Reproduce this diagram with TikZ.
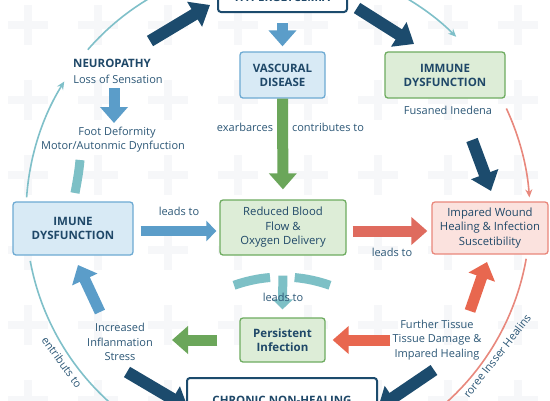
\documentclass[tikz,border=0pt]{standalone}
\usepackage{fontspec}
\setmainfont{Open Sans}
\usetikzlibrary{arrows.meta}
\definecolor{navy}{HTML}{1C4B6D}
\definecolor{txtnavy}{HTML}{1F4868}
\definecolor{lbltxt}{HTML}{2D5877}
\definecolor{bluearrc}{HTML}{5B9DC9}
\definecolor{bluefill}{HTML}{D8EAF5}
\definecolor{blueborder}{HTML}{6DAAD3}
\definecolor{greenfill}{HTML}{DDEDD7}
\definecolor{greenborder}{HTML}{6EAC60}
\definecolor{greenarrc}{HTML}{6BA65A}
\definecolor{redfill}{HTML}{FBE2DE}
\definecolor{redborder}{HTML}{E9877B}
\definecolor{redarrc}{HTML}{DF6B5E}
\definecolor{orangearrc}{HTML}{E8674F}
\definecolor{thinteal}{HTML}{7FC0C9}
\definecolor{tealbar}{HTML}{7DC0C6}
\definecolor{thinred}{HTML}{E8887D}
\definecolor{crossc}{HTML}{F6F7F9}
\tikzset{
  boxbase/.style={draw, rounded corners=3pt, line width=1.3pt, align=center, inner sep=2pt, text=txtnavy},
  titlefont/.style={font=\bfseries\fontsize{11.5}{14}\selectfont},
  bodyfont/.style={font=\fontsize{11.3}{14.5}\selectfont},
  bluebox/.style={boxbase, fill=bluefill, draw=blueborder, titlefont},
  greenbox/.style={boxbase, fill=greenfill, draw=greenborder},
  redbox/.style={boxbase, fill=redfill, draw=redborder, bodyfont},
  navybox/.style={boxbase, fill=white, draw=navy, line width=2pt, titlefont},
  lbl/.style={text=lbltxt, font=\fontsize{11}{14.2}\selectfont, align=center, inner sep=1pt},
  navyarr/.style={draw=navy, line width=12pt, -{Triangle[width=28pt,length=18pt]}},
  medarr/.style={line width=11pt, -{Triangle[width=27pt,length=16pt]}},
  smallarr/.style={line width=10pt, -{Triangle[width=20pt,length=10pt]}},
  thinarc/.style={line width=1.6pt},
  thintip/.style={-{Stealth[length=8pt,width=7pt]}},
  tealbarst/.style={draw=tealbar, line width=9pt}
}
\begin{document}
\begin{tikzpicture}[x=1pt,y=1pt]
\useasboundingbox (0,0) rectangle (550,-400);
\clip (0,0) rectangle (550,-400);
\fill[white] (0,0) rectangle (550,-400);
% faint background crosses
\foreach \i in {0,...,7} {
  \foreach \j in {0,...,5} {
    \fill[crossc] ({28+70*\i-20},{-25-75*\j-4}) rectangle +(40,8);
    \fill[crossc] ({28+70*\i-4},{-25-75*\j-20}) rectangle +(8,40);
  }
}
% big cycle circle (thin arcs)
\coordinate (C) at (278,-215);
\draw[thinarc, draw=thinteal, thintip] (C) ++(176:252pt) arc[start angle=176, end angle=148, radius=252pt];
\draw[thinarc, draw=thinteal] (C) ++(139:252pt) arc[start angle=139, end angle=110, radius=252pt];
\draw[thinarc, draw=thinteal, thintip] (C) ++(65:252pt) arc[start angle=65, end angle=45, radius=252pt];
\draw[thinarc, draw=thinred, thintip] (C) ++(25:252pt) arc[start angle=25, end angle=4, radius=252pt];
\draw[thinarc, draw=thinred] (C) ++(-10:252pt) arc[start angle=-10, end angle=-60, radius=252pt];
\draw[thinarc, draw=thinteal] (C) ++(190.5:252pt) arc[start angle=190.5, end angle=235, radius=252pt];

% boxes
\node[navybox, minimum width=129pt, minimum height=30pt] (hyper) at (282.5,3) {HYPERGLYCEMIA};
\node[bluebox, minimum width=85pt, minimum height=46pt] (vasc) at (282.5,-75) {VASCURAL\\DISEASE};
\node[greenbox, titlefont, minimum width=120pt, minimum height=46pt] (immune) at (445,-75) {IMMUNE\\DYSFUNCTION};
\node[bluebox, minimum width=120pt, minimum height=53pt] (imune) at (73,-228.5) {IMUNE\\DYSFUNCTION};
\node[greenbox, bodyfont, minimum width=126pt, minimum height=55pt] (reduced) at (283,-227.5) {Reduced Blood\\Flow \&\\Oxygen Delivery};
\node[redbox, minimum width=116pt, minimum height=52pt] (impared) at (490,-228) {Impared Wound\\Healing \& Infection\\Suscetibility};
\node[greenbox, titlefont, minimum width=85pt, minimum height=44pt] (persist) at (282.5,-340) {Persistent\\Infection};
\node[navybox, minimum width=190pt, minimum height=44pt] (chronic) at (282,-400) {CHRONIC NON-HEALING};

% text labels
\node[lbl, text=txtnavy, font=\bfseries\fontsize{11.5}{13}\selectfont] (neuro) at (112,-63) {NEUROPATHY};
\node[lbl] (loss) at (118,-79) {Loss of Sensation};
\node[lbl] (foot) at (117,-133) {Foot Deformity};
\node[lbl] (motor) at (113,-147) {Motor/Autonmic Dynfuction};
\node[lbl] (fusaned) at (448,-110) {Fusaned Inedena};
\node[lbl] (exarb) at (245,-127) {exarbarces};
\node[lbl] (contrib) at (328,-127) {contributes to};
\node[lbl] (leadsA) at (179,-211) {leads to};
\node[lbl] (leadsB) at (392,-252) {leads to};
\node[lbl] (incr) at (120,-342) {Increased\\Inflanmation\\Stress};
\node[lbl] (further) at (437,-340) {Further Tissue\\Tissue Damage \&\\Impared Healing};
\node[lbl, rotate=-54] (entrib) at (62,-362) {entributs to};
\node[lbl, rotate=52] (proro) at (497,-356) {roree Insser Healins};

% free arrow end points
\coordinate (tlS) at (150,-41);
\coordinate (tlE) at (210,-5);
\coordinate (trS) at (357,-8);
\coordinate (trE) at (414,-44);
\coordinate (rS) at (472,-140);
\coordinate (rE) at (491,-191);
\coordinate (blS) at (127,-372);
\coordinate (blE) at (188,-408);
\coordinate (brS) at (434,-370);
\coordinate (brE) at (378,-408);
\coordinate (nS) at (114,-88);
\coordinate (nE) at (114,-123);
\coordinate (iS) at (100,-312);
\coordinate (iE) at (78,-265);
\coordinate (gE) at (172,-340);
\coordinate (fS) at (470,-311);
\coordinate (fE) at (487,-262);
\coordinate (tbS) at (80,-160);
\coordinate (tbE) at (75,-193);

% navy arrows
\draw[navyarr] (tlS) -- (tlE);
\draw[navyarr] (trS) -- (trE);
\draw[navyarr] (rS) -- (rE);
\draw[navyarr] (blS) -- (blE);
\draw[navyarr] (brS) -- (brE);

% blue arrows
\draw[medarr, draw=bluearrc, shorten <=10pt, shorten >=5pt] (hyper.south) -- (vasc.north);
\draw[medarr, draw=bluearrc] (nS) -- (nE);
\draw[smallarr, draw=bluearrc, shorten <=7pt, shorten >=3pt] ([yshift=-2.5pt]imune.east) -- ([yshift=-3.5pt]reduced.west);
\draw[medarr, draw=bluearrc] (iS) -- (iE);

% green arrows
\draw[medarr, draw=greenarrc, shorten >=10pt] (vasc.south) -- (reduced.north);
\draw[medarr, draw=greenarrc, shorten <=22pt] (persist.west) -- (gE);

% red arrows
\draw[medarr, draw=redarrc, shorten <=6pt, shorten >=4pt] ([yshift=-3.5pt]reduced.east) -- ([yshift=-3pt]impared.west);
\draw[medarr, draw=orangearrc, shorten >=7pt] (390,-340) -- (persist.east);
\draw[medarr, draw=orangearrc] (fS) -- (fE);

% teal bars and arrow
\draw[tealbarst] (tbS) .. controls (79,-172) and (77,-182) .. (tbE);
\coordinate (C2) at (282,-420);
\draw[tealbarst] (C2) ++(109.6:143pt) arc[start angle=109.6, end angle=94.8, radius=143pt];
\draw[tealbarst] (C2) ++(84.9:143pt) arc[start angle=84.9, end angle=70.4, radius=143pt];
\draw[smallarr, draw=tealbar, line width=9pt, shorten <=20pt, shorten >=8pt] (reduced.south) -- (persist.north);
\node[lbl] (leadsC) at (283,-297) {leads to};
\end{tikzpicture}
\end{document}
